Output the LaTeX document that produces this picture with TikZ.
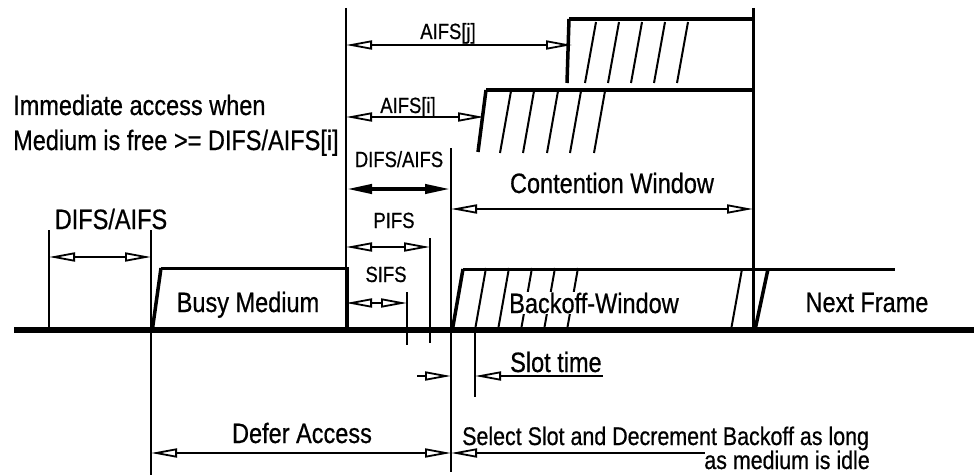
\documentclass[tikz,border=0pt]{standalone}
\usepackage{fontspec}
\setmainfont[FakeStretch=0.84,FakeBold=0.6]{Liberation Sans}
\usetikzlibrary{arrows.meta}

\begin{document}
\begin{tikzpicture}[x=1pt,y=-1pt,>={Triangle[open,length=26pt,width=9pt]},
  dim/.style={<->,line width=1.8pt},
  big/.style={inner sep=0pt,font=\fontsize{28}{30}\selectfont},
  small/.style={inner sep=0pt,font=\fontsize{22}{24}\selectfont},
  thin/.style={line width=1.5pt},
  edge/.style={line width=3.5pt},
  hatch/.style={line width=2pt}]
\useasboundingbox (0,0) rectangle (974,476);
% time marks
\draw[thin] (49,230) -- (49,330);
\draw[thin] (151,230) -- (151,475);
\draw[thin] (346,8) -- (346,330);
\draw[thin] (451,148) -- (451,472);
\draw[thin] (430,238) -- (430,343);
\draw[thin] (407,292) -- (407,345);
\draw[thin] (475,330) -- (475,397);
\draw[line width=3pt] (753,8) -- (753,330);
% contention windows
\foreach \x in {585,608,631,654,677}
  \draw[hatch] (\x,83) -- ++(11,-61);
\draw[edge] (567,83) -- (569,19);
\draw[line width=4pt] (569,19) -- (753,19);
\foreach \x in {500,523,547,570,594}
  \draw[hatch] (\x,153) -- ++(11,-62);
\draw[edge] (478,152) -- (486,90);
\draw[line width=4pt] (486,90) -- (753,90);
% busy medium
\draw[edge] (152,332) -- (161,268);
\draw[line width=3pt] (161,268) -- (347,268) -- (347,330);
\node[big,anchor=base] (busy) at (248,312) {Busy Medium};
% backoff window and next frame
\foreach \x in {475,498,521,544,567}
  \draw[hatch] (\x,330) -- ++(11,-62);
\draw[hatch] (731,330) -- (742,269);
\draw[edge] (452,332) -- (463,269);
\draw[line width=3pt] (463,269) -- (895,269);
\draw[edge] (755,330) -- (768,269);
\node[big,anchor=base,fill=white,inner sep=1pt] (backoff) at (594,313) {Backoff-Window};
\node[big,anchor=base] (next) at (867,312) {Next Frame};
% medium
\draw[line width=6pt] (14,330) -- (974,330);
% intervals
\draw[dim] (49,257) -- (151,257);
\node[big,anchor=base] (difs) at (111,229) {DIFS/AIFS};
\draw[dim] (346,45) -- (572,45);
\node[small,anchor=base] (aifsj) at (448,39) {AIFS[j]};
\draw[dim] (346,117) -- (484,117);
\node[small,anchor=base] (aifsi) at (408,113) {AIFS[i]};
\draw[<->,line width=4pt] (346,189) -- (451,189);
\node[small,anchor=base] (difsb) at (399,167) {DIFS/AIFS};
\draw[dim] (451,209) -- (753,209);
\node[big,anchor=base] (cw) at (612,193) {Contention Window};
\draw[dim] (346,247) -- (430,247);
\node[small,anchor=base] (pifs) at (394,228) {PIFS};
\draw[dim] (346,303) -- (407,303);
\node[small,anchor=base] (sifs) at (386,282) {SIFS};
% slot time
\draw[->,line width=1.8pt] (417,376) -- (451,376);
\draw[<-,line width=1.8pt] (475,376) -- (603,376);
\node[big,anchor=base west] (slot) at (510,372) {Slot time};
% defer and backoff
\draw[dim] (151,453) -- (451,453);
\node[big,anchor=base] (defer) at (302,443) {Defer Access};
\draw[<-,line width=1.8pt] (451,453) -- (705,453);
\node[inner sep=0pt,font=\fontsize{25.5}{28}\selectfont,anchor=base west] (sel) at (462,445) {Select Slot and Decrement Backoff as long};
\node[inner sep=0pt,font=\fontsize{25.5}{28}\selectfont,anchor=base east] (idle) at (870,469) {as medium is idle};
% immediate access
\node[big,anchor=base west] (imm) at (13,115) {Immediate access when};
\node[big,anchor=base west] (free) at (13,150) {Medium is free >= DIFS/AIFS[i]};
\end{tikzpicture}
\end{document}
